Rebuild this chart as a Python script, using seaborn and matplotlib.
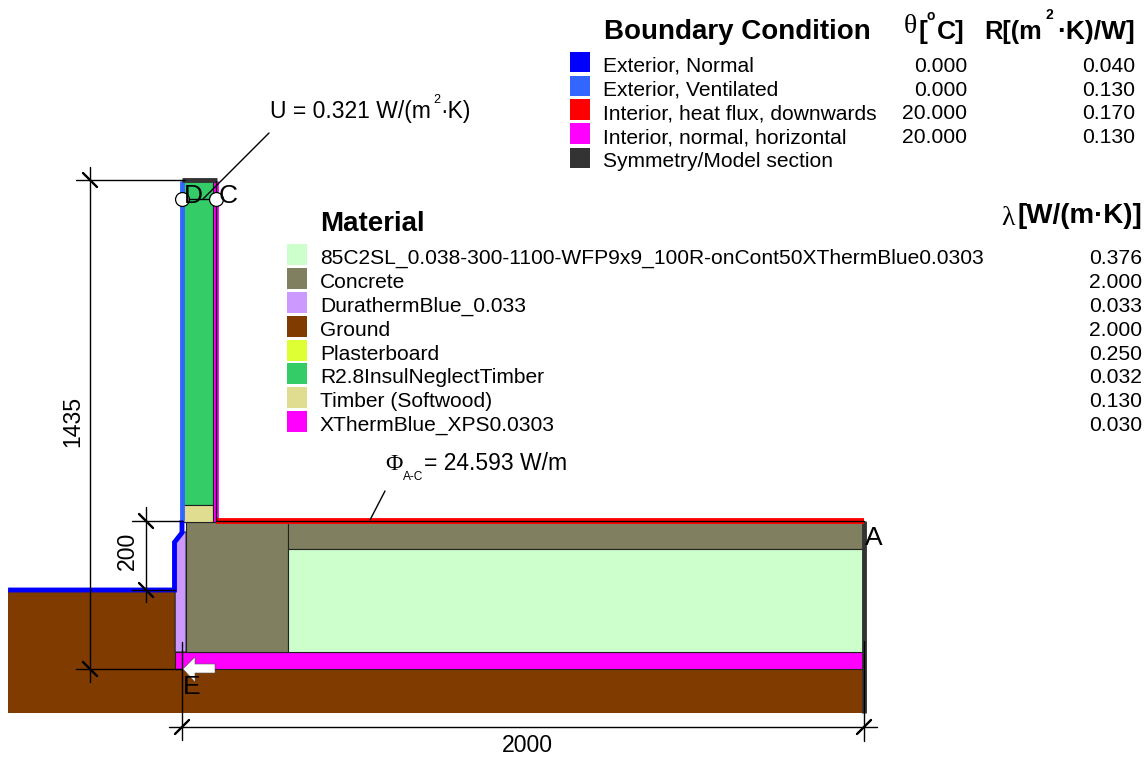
import matplotlib
matplotlib.use("Agg")
import matplotlib.pyplot as plt
import matplotlib.transforms as mtransforms
import pandas as pd
import seaborn as sns
from matplotlib.patches import Rectangle

W, H = 1148, 764
PX_PER_MM = 0.341
X0_PX, Y0_PX = 182, 590  # where x=0 (outer wall) and y=0 (ground level) sit

# boundary conditions
bc_names = ["Exterior, Normal", "Exterior, Ventilated", "Interior, heat flux, downwards",
            "Interior, normal, horizontal", "Symmetry/Model section"]
bc_colors = ["#0000FF", "#3366FF", "#FF0000", "#FF00FF", "#333333"]
bc_theta = ["0.000", "0.000", "20.000", "20.000", ""]
bc_r = ["0.040", "0.130", "0.170", "0.130", ""]

# materials
mat_names = ["85C2SL_0.038-300-1100-WFP9x9_100R-onCont50XThermBlue0.0303", "Concrete",
             "DurathermBlue_0.033", "Ground", "Plasterboard", "R2.8InsulNeglectTimber",
             "Timber (Softwood)", "XThermBlue_XPS0.0303"]
mat_colors = ["#CCFFCC", "#808060", "#CC99FF", "#7F3B00", "#DDFF33", "#33CC66", "#E0DC90", "#FF00FF"]
mat_lambda = ["0.376", "2.000", "0.033", "2.000", "0.250", "0.032", "0.130", "0.030"]

# section geometry in mm
ground_x = [-510, -20, -20, 2000, 2000, -510]
ground_y = [0, 0, -232, -232, -361, -361]
dura_x = [-20, 0, 12, 12, -20]
dura_y = [140, 170, 170, -182, -182]
xps_x = [-20, 2000, 2000, -20]
xps_y = [-182, -182, -232, -232]
block_x = [12, 311, 311, 12]
block_y = [200, 200, -182, -182]
slab_x = [311, 2000, 2000, 311]
slab_y = [200, 200, 120, 120]
fill_x = [311, 2000, 2000, 311]
fill_y = [120, 120, -182, -182]
insul_x = [0, 91, 91, 0]
insul_y = [1200, 1200, 250, 250]
timber_x = [0, 91, 91, 0]
timber_y = [250, 250, 200, 200]
plaster_x = [91, 100, 100, 91]
plaster_y = [1200, 1200, 200, 200]

# boundary polylines in mm
exterior_x = [-510, -22, -22, 0, 0]
exterior_y = [0, 0, 140, 168, 205]
vent_x = [0, 0]
vent_y = [205, 1200]
heat_x = [99, 2000]
heat_y = [202, 202]
wall_in_x = [99, 99]
wall_in_y = [202, 1200]
sym_top_x = [0, 103]
sym_top_y = [1203, 1203]
sym_end_x = [2000, 2000]
sym_end_y = [203, -361]

# values shown on the dimensions
dim_height = "1435"
dim_step = "200"
dim_length = "2000"
u_label = "U = 0.321 W/(m"
phi_label = "= 24.593 W/m"


def mm_x(px):
    return (px - X0_PX) / PX_PER_MM


def mm_y(py):
    return (Y0_PX - py) / PX_PER_MM


sns.set_theme(style="white")
plt.rcParams["font.family"] = ["Liberation Sans", "DejaVu Sans"]

fig = plt.figure(figsize=(W / 100, H / 100), dpi=100)
ax = fig.add_axes([0, 0, 1, 1])
ax.set_xlim(mm_x(0), mm_x(W))
ax.set_ylim(mm_y(H), mm_y(0))
ax.axis("off")
px = mtransforms.Affine2D().scale(1 / W, -1 / H).translate(0, 1) + fig.transFigure

# materials
polys = [(3, ground_x, ground_y), (2, dura_x, dura_y), (7, xps_x, xps_y), (1, block_x, block_y),
         (1, slab_x, slab_y), (0, fill_x, fill_y), (5, insul_x, insul_y), (6, timber_x, timber_y),
         (7, plaster_x, plaster_y)]
for i, xs, ys in polys:
    edge = "none" if i == 3 else "#222222"
    ax.fill(xs, ys, facecolor=mat_colors[i], edgecolor=edge, lw=0.8, zorder=1)

# boundary lines
rows = []
for name, xs, ys in [("ext", exterior_x, exterior_y), ("vent", vent_x, vent_y), ("wall", wall_in_x, wall_in_y),
                     ("top", sym_top_x, sym_top_y), ("end", sym_end_x, sym_end_y)]:
    for a, b in zip(xs, ys):
        rows.append({"x": a, "y": b, "seg": name})
bc_df = pd.DataFrame(rows)
sns.lineplot(data=bc_df, x="x", y="y", hue="seg", units="seg", estimator=None, sort=False, ax=ax, legend=False,
             palette={"ext": bc_colors[0], "vent": bc_colors[1], "wall": bc_colors[3],
                      "top": bc_colors[4], "end": bc_colors[4]},
             lw=3.5, zorder=2, solid_capstyle="butt", solid_joinstyle="miter")
sns.lineplot(x=heat_x, y=heat_y, color=bc_colors[2], estimator=None, sort=False, ax=ax, lw=4.2, zorder=2,
             solid_capstyle="butt")
ax.plot([100, 100, 2000], [1200, 202, 202], color="black", lw=1.0, zorder=3)

# dimension lines, in mm
segs = [
    ([mm_x(90), mm_x(90)], [mm_y(167), mm_y(682)]),
    ([mm_x(76), mm_x(185)], [mm_y(180), mm_y(180)]),
    ([mm_x(76), mm_x(182)], [mm_y(669), mm_y(669)]),
    ([mm_x(83), mm_x(97)], [mm_y(173), mm_y(187)]),
    ([mm_x(83), mm_x(97)], [mm_y(662), mm_y(676)]),
    ([mm_x(146), mm_x(146)], [mm_y(507), mm_y(602)]),
    ([mm_x(132), mm_x(182)], [mm_y(521), mm_y(521)]),
    ([mm_x(132), mm_x(175)], [mm_y(590), mm_y(590)]),
    ([mm_x(139), mm_x(153)], [mm_y(514), mm_y(528)]),
    ([mm_x(139), mm_x(153)], [mm_y(583), mm_y(597)]),
    ([mm_x(169), mm_x(877)], [mm_y(727), mm_y(727)]),
    ([mm_x(182), mm_x(182)], [mm_y(642), mm_y(740)]),
    ([mm_x(864), mm_x(864)], [mm_y(641), mm_y(741)]),
    ([mm_x(175), mm_x(189)], [mm_y(734), mm_y(720)]),
    ([mm_x(857), mm_x(871)], [mm_y(734), mm_y(720)]),
    ([mm_x(269), mm_x(203)], [mm_y(133), mm_y(199)]),
    ([mm_x(187), mm_x(216)], [mm_y(199), mm_y(199)]),
    ([mm_x(385), mm_x(370)], [mm_y(491), mm_y(520)]),
]
rows = []
for k, (xs, ys) in enumerate(segs):
    rows += [{"x": a, "y": b, "seg": k} for a, b in zip(xs, ys)]
dim_df = pd.DataFrame(rows)
sns.lineplot(data=dim_df, x="x", y="y", units="seg", estimator=None, sort=False, ax=ax, legend=False,
             color="black", lw=1.0, zorder=4)
# heavier slash ticks
for xs, ys in [segs[3], segs[4], segs[8], segs[9], segs[13], segs[14]]:
    ax.plot(xs, ys, color="black", lw=1.7, zorder=4)

# points C and D
sns.scatterplot(x=[mm_x(182), mm_x(216)], y=[mm_y(199), mm_y(199)], s=100, color="white", edgecolor="black",
                linewidth=0.9, ax=ax, legend=False, zorder=6)

# heat flow arrow at E
ax.fill([183, 195, 195, 215, 215, 195, 195], [669, 657, 664, 664, 673, 673, 682], facecolor="white",
        edgecolor="#555555", lw=0.4, transform=px, zorder=6)


def label(x, y, s, size=15.15, ha="left", va="baseline", **kw):
    ax.text(x, y, s, fontsize=size, ha=ha, va=va, transform=px, color="black", zorder=7, **kw)


# letters
label(193, 203, "D", 19, ha="center")
label(228, 203, "C", 19, ha="center")
label(874, 545, "A", 19, ha="center")
label(192, 694, "E", 19, ha="center")

# dimension and result text
label(73, 421, dim_height, 16.6, ha="center", va="center", rotation=90)
label(127.5, 551, dim_step, 16.6, ha="center", va="center", rotation=90)
label(527, 752, dim_length, 16.6, ha="center")
label(270, 118, u_label, 16.5)
label(437, 103, "2", 9, ha="center")
label(471, 118, "·K)", 16.5, ha="right")
label(385, 470, "Φ", 17, family="Liberation Serif")
label(403, 480, "A-C", 8.6)
label(424, 470, phi_label, 16.5)

# boundary legend
label(604, 39, "Boundary Condition", 20, weight="bold")
label(904, 33, "θ", 20, family="Liberation Serif")
label(919, 39, "[", 19, weight="bold")
label(931, 20, "o", 10, weight="bold", ha="center")
label(965, 39, "C]", 19, ha="right", weight="bold")
label(984, 39, "R[(m", 18.3, weight="bold")
label(1049, 19, "2", 10, weight="bold", ha="center")
label(1135, 39, "·K)/W]", 19, ha="right", weight="bold")
bc_swatch = [61.5, 85.5, 109, 133, 157.5]
bc_base = [72, 96, 119, 143, 167]
for sy, y, c, n, t, r in zip(bc_swatch, bc_base, bc_colors, bc_names, bc_theta, bc_r):
    ax.add_patch(Rectangle((570, sy - 10), 20, 20.5, facecolor=c, edgecolor="none", transform=px, zorder=7))
    label(603, y, n)
    label(967, y, t, 15.2, ha="right")
    label(1135, y, r, 15.2, ha="right")

# material legend
label(320, 231, "Material", 20, weight="bold")
label(1001, 225, "λ", 20, family="Liberation Serif")
label(1142, 223, "[W/(m·K)]", 20, ha="right", weight="bold")
mat_base = [264, 288, 312, 336, 360, 383, 407, 431]
for y, c, n, v in zip(mat_base, mat_colors, mat_names, mat_lambda):
    ax.add_patch(Rectangle((287, y - 20), 20, 20.5, facecolor=c, edgecolor="none", transform=px, zorder=7))
    label(320, y, n)
    label(1142, y, v, 15.2, ha="right")

fig.savefig("out.png", dpi=100)
